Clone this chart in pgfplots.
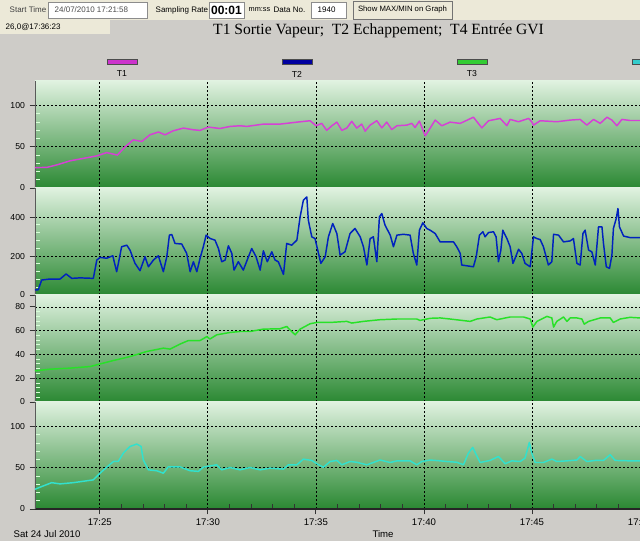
\documentclass[border=0pt]{standalone}
\usepackage{pgfplots}
\pgfplotsset{compat=1.18}
\usepackage{fontspec}
\setmainfont{Liberation Sans}
\newfontfamily\titlefont{Liberation Serif}

\definecolor{pagegrey}{RGB}{206,204,200}
\definecolor{toolbar}{RGB}{236,233,216}
\definecolor{bgtop}{RGB}{224,242,224}
\definecolor{bgbot}{RGB}{42,136,50}
\definecolor{cT1}{RGB}{214,64,214}
\definecolor{cT2}{RGB}{0,34,190}
\definecolor{cT3}{RGB}{40,225,40}
\definecolor{cT4}{RGB}{50,225,205}
\definecolor{lT1}{RGB}{204,51,204}
\definecolor{lT2}{RGB}{0,0,160}
\definecolor{lT3}{RGB}{51,204,51}
\definecolor{lT4}{RGB}{51,204,204}

\pgfplotsset{
  panel/.style={
    scale only axis, width=453.75pt, height=80.25pt,
    anchor=north west,
    xmin=22, xmax=50,
    xtick={25,30,35,40,45,50}, xticklabels={},
    minor x tick num=4,
    minor y tick num=4,
    axis lines*=left,
    x axis line style={black!85, line width=1.1pt},
    y axis line style={black!65, line width=0.7pt},
    axis background/.style={top color=bgtop, bottom color=bgbot},
    grid=major,
    major grid style={black, line width=0.55pt, dash pattern=on 1.5pt off 1.5pt},
    tick align=outside,
    major tick length=4pt,
    minor tick length=-3.5pt,
    major tick style={black!80, line width=0.6pt},
    minor y tick style={white!85!green, line width=0.7pt},
    xtick style={draw=none},
    /pgf/number format/assume math mode=true,
    yticklabel style={font=\fontsize{6.5}{7}\selectfont, text=black},
    every axis plot/.append style={line width=1.1pt, line join=round},
  }
}

\begin{document}
\begin{tikzpicture}
\clip (0,0) rectangle (480pt,-405.75pt);
\begin{scope}[x=0.75pt,y=-0.75pt]
  \fill[pagegrey] (0,0) rectangle (640,541);
  % tool bar
  \fill[toolbar] (0,0) rectangle (640,20);
  \fill[toolbar] (0,20) rectangle (110,34);
  \node[anchor=west, font=\fontsize{6}{7}\selectfont, text=black!75] at (5,10) {Start Time};
  \draw[black!45, fill=white] (48,2) rectangle (147,18);
  \node[anchor=west, font=\fontsize{6}{7}\selectfont, text=black!70] at (50,10) {24/07/2010 17:21:58};
  \node[anchor=west, font=\fontsize{6}{7}\selectfont] at (151,10) {Sampling Rate};
  \draw[black!45, fill=white] (209,2) rectangle (244,18);
  \node[font=\bfseries\fontsize{9}{10}\selectfont] at (226.5,10) {00:01};
  \node[anchor=west, font=\fontsize{5.5}{6}\selectfont] at (244,10) {mm:ss};
  \node[anchor=west, font=\fontsize{6}{7}\selectfont] at (269,10) {Data No.};
  \draw[black!45, fill=white] (311,2) rectangle (346,18);
  \node[anchor=west, font=\fontsize{6}{7}\selectfont] at (313,10) {1940};
  \draw[black!55, fill=toolbar] (353,1) rectangle (452,19);
  \node[font=\fontsize{5.8}{7}\selectfont] at (402.5,10) {Show MAX/MIN on Graph};
  \node[anchor=west, font=\fontsize{6}{7}\selectfont] at (1,27) {26,0@17:36:23};
  % title
  \node[font=\titlefont\fontsize{11.7}{14}\selectfont] at (378.5,31) {T1 Sortie Vapeur;\ \ T2 Echappement;\ \ T4 Entrée GVI};
  % legend bars
  \draw[black!70, fill=lT1] (107,59) rectangle (137,64);
  \draw[black!70, fill=lT2] (282,59) rectangle (312,64);
  \draw[black!70, fill=lT3] (457,59) rectangle (487,64);
  \draw[black!70, fill=lT4] (632,59) rectangle (662,64);
  \node[font=\fontsize{6.5}{7}\selectfont] at (122,74) {T1};
  \node[font=\fontsize{6.5}{7}\selectfont] at (297,74) {T2};
  \node[font=\fontsize{6.5}{7}\selectfont] at (472,74) {T3};
  % bottom texts
  \node[anchor=west, font=\fontsize{7.2}{8}\selectfont] at (9,534) {Sat 24 Jul 2010};
  \node[font=\fontsize{7.2}{8}\selectfont] at (383,534) {Time};
\end{scope}

% T1
\begin{axis}[panel, at={(26.25pt,-60.75pt)}, ymin=0, ymax=130, ytick={0,50,100}]
\addplot[cT1] coordinates {
(22.00,24.8)(22.54,25)(23.00,28)(23.62,33)(24.24,36)(24.86,39)(25.32,43)(25.81,40)
(26.17,50)(26.55,58.5)(26.94,56.5)(27.32,64.6)(27.71,68)(28.02,64.6)(28.40,69.5)
(28.87,72.8)(29.33,70.7)(29.64,70)(30.02,74)(30.56,72.3)(31.03,74.8)(31.49,75.6)
(31.80,74.8)(32.57,77.6)(33.34,77.6)(34.12,80)(34.73,81.7)(35.01,75.6)(35.27,78.5)
(35.50,70)(35.74,75.6)(35.97,80)(36.20,70)(36.43,72.8)(36.66,81)(36.89,72.8)
(37.12,77.6)(37.28,69)(37.51,76.4)(37.82,81.7)(38.05,73)(38.28,80)(38.51,71)
(38.75,75.6)(39.21,76.4)(39.44,78.5)(39.59,73.5)(39.79,81.3)(40.06,63.4)(40.29,72.8)
(40.52,82.5)(40.83,75.6)(41.21,80)(41.68,78.5)(42.29,86)(42.68,73)(42.99,81.7)
(43.53,84.5)(43.84,75.6)(43.99,83.3)(44.38,80.5)(44.84,84.5)(44.99,80.5)(45.07,76.4)
(45.38,81.7)(46.15,80.5)(46.77,82.5)(47.23,83.3)(47.54,76.4)(47.85,83.3)(48.16,78.5)
(48.47,86)(48.70,82.5)(48.93,75.6)(49.16,83.3)(49.54,82)(50.00,82)
};
\end{axis}

% T2
\begin{axis}[panel, at={(26.25pt,-141pt)}, ymin=0, ymax=550, ytick={0,200,400}]
\addplot[cT2] coordinates {
(22.00,25.6)(22.15,27)(22.31,77)(22.69,82)(23.16,82)(23.44,108)(23.70,85.5)(24.08,88)
(24.70,85.5)(24.86,179.5)(25.01,193)(25.32,189)(25.60,201.6)(25.78,119.6)(26.01,248)
(26.25,256)(26.40,230)(26.63,162.5)(26.86,124.8)(27.09,196.6)(27.25,145)(27.48,179.5)
(27.71,201.6)(27.94,119.6)(28.10,196.6)(28.22,307.7)(28.33,311)(28.48,265)(28.79,262)
(29.02,213.8)(29.18,119.6)(29.33,171)(29.49,119.6)(29.64,188.8)(29.79,248)(29.92,307.7)
(30.10,290.7)(30.33,281.9)(30.49,239)(30.64,171)(30.80,179.5)(30.95,253)(31.11,213.8)
(31.21,128)(31.41,171)(31.64,128)(31.88,196.6)(32.03,239)(32.23,196.6)(32.42,128)
(32.57,227)(32.75,171)(32.96,222)(33.11,179.5)(33.26,171)(33.50,106)(33.65,265)
(33.88,256)(34.12,282)(34.27,401.5)(34.42,487)(34.58,504)(34.65,384.6)(34.81,299)
(34.96,290)(35.12,213.8)(35.23,162.5)(35.43,196.6)(35.58,299)(35.78,367.5)(35.97,316)
(36.12,205)(36.35,222)(36.58,316)(36.81,342)(37.05,299)(37.20,248)(37.36,154)
(37.51,290)(37.66,299)(37.82,171)(37.94,401.5)(38.05,419)(38.20,359)(38.44,307.7)
(38.59,248)(38.75,307.7)(39.05,312)(39.36,307.7)(39.51,213.8)(39.67,154)(39.79,333)
(39.95,371)(40.13,342)(40.29,333)(40.52,316)(40.75,273)(41.37,273)(41.52,248)
(41.68,213.8)(41.75,154)(42.29,145)(42.42,196.6)(42.57,307.7)(42.73,325)(42.83,299)
(42.99,321)(43.22,325)(43.34,299)(43.45,171)(43.56,231)(43.65,333)(43.84,290)
(43.99,248)(44.12,162.5)(44.22,188.8)(44.38,235)(44.53,213.8)(44.68,162.5)(44.92,145)
(45.07,299)(45.23,290)(45.38,285)(45.53,248)(45.76,154)(45.92,171)(46.00,312)
(46.23,307.7)(46.46,273)(46.77,278)(46.92,290)(47.08,162.5)(47.23,154)(47.36,316)
(47.46,333)(47.62,231)(47.77,222)(47.93,154)(48.08,350)(48.24,350)(48.31,265)
(48.44,145)(48.59,137)(48.70,205)(48.77,342)(48.90,393)(48.98,444.6)(49.05,350)
(49.24,303)(49.54,295)(50.00,295)
};
\end{axis}

% T3
\begin{axis}[panel, at={(26.25pt,-221.25pt)}, ymin=0, ymax=90, ytick={0,20,40,60,80}]
\addplot[cT3] coordinates {
(22.00,26.2)(22.69,27.6)(23.62,28.5)(24.55,29.8)(25.01,32)(25.63,34.9)(26.40,38.2)
(27.17,42.5)(27.94,45.3)(28.25,44.5)(28.71,48.7)(29.10,51.7)(29.64,51.7)(29.95,55)
(30.10,53)(30.41,56.5)(31.03,58.5)(31.49,59.3)(31.95,59.3)(32.57,61.3)(33.34,61.6)
(33.65,63.5)(33.88,59.3)(34.04,56.5)(34.27,61.3)(34.73,65.8)(35.04,66.9)(35.66,66.9)
(36.43,67.8)(36.66,66.4)(37.20,67.8)(37.97,69.2)(38.75,69.8)(39.67,69.8)(39.82,68.6)
(40.29,70.4)(40.75,70.7)(41.21,69.8)(42.14,67.8)(42.45,69.8)(43.06,71.5)(43.37,69.2)
(43.99,71.5)(44.61,71.5)(44.92,69.8)(45.04,63)(45.23,67.8)(45.69,72)(45.92,70.7)
(46.00,63)(46.15,67.8)(46.46,71.5)(46.62,67.8)(46.77,70.7)(47.08,70.7)(47.31,69.8)
(47.42,65.5)(47.62,67.8)(48.16,70.7)(48.62,70.7)(48.77,66.9)(49.08,69.8)(49.54,71.2)
(50.00,70.7)
};
\end{axis}

% T4
\begin{axis}[panel, at={(26.25pt,-301.5pt)}, ymin=0, ymax=130, ytick={0,50,100},
  xticklabels={17:25,17:30,17:35,17:40,17:45,17:50},
  xtick style={draw=black!80, line width=0.6pt},
  xticklabel style={font=\fontsize{7.2}{8}\selectfont, text=black}]
\addplot[cT4] coordinates {
(22.00,24)(22.38,28)(22.77,32)(23.16,30.5)(23.77,32)(24.24,33.7)(24.70,35.4)(25.01,43.5)
(25.32,50.8)(25.63,57.7)(25.86,58)(26.09,68)(26.40,76)(26.71,78.9)(26.91,76)(27.01,59.8)
(27.25,47.6)(27.63,46.5)(27.94,43.5)(28.17,51.2)(28.71,51.2)(29.18,46.5)(29.56,45.7)
(29.79,50.8)(30.41,53.7)(30.64,47.6)(31.03,50.4)(31.49,47.6)(31.95,50.4)(32.42,47.6)
(32.88,49.6)(33.50,48.5)(33.73,53.7)(34.12,53.7)(34.42,60.6)(34.81,59)(35.12,53.7)
(35.35,50.8)(35.66,57.7)(35.97,59)(36.20,53.7)(36.58,57.7)(36.89,56.8)(37.36,53.7)
(37.66,56.5)(37.97,59.5)(38.44,56.5)(38.75,58.5)(39.36,58.5)(39.67,53.7)(39.90,57.7)
(40.29,59.5)(40.75,58.5)(41.06,57.7)(41.52,56.8)(41.83,53.7)(42.06,68)(42.26,74.8)
(42.42,66)(42.60,56.5)(43.06,59)(43.45,63.8)(43.76,55)(44.07,58.5)(44.45,57.7)
(44.68,61.8)(44.88,80.9)(44.99,68)(45.15,56.5)(45.53,56.5)(45.92,60.6)(46.15,57.7)
(46.62,58.5)(47.08,59.5)(47.23,63.8)(47.54,57.7)(47.93,59)(48.31,59)(48.62,66)
(48.85,59)(49.54,58.5)(50.00,58.5)
};
\end{axis}
\end{tikzpicture}
\end{document}
